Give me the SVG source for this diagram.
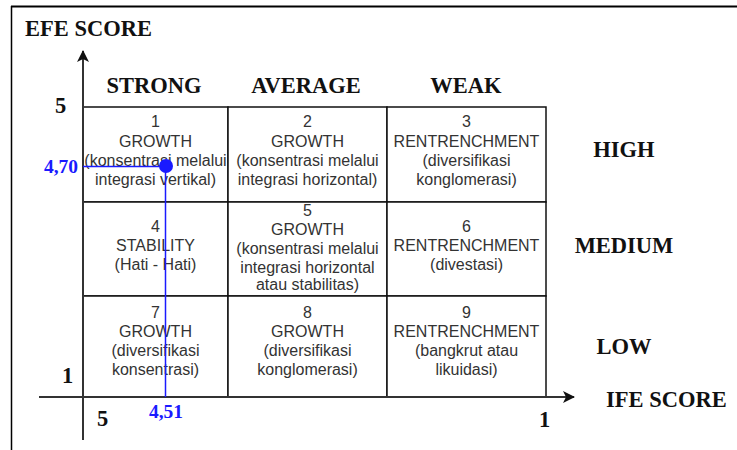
<svg xmlns="http://www.w3.org/2000/svg" width="737" height="450" viewBox="0 0 737 450">
  <defs>
    <marker id="arrow" viewBox="0 0 12 12" refX="11" refY="6" markerWidth="12" markerHeight="12" markerUnits="userSpaceOnUse" orient="auto">
      <path d="M0,0 L12,6 L0,12 L3,6 Z" fill="#111"/>
    </marker>
    <style>
      .frame { stroke: #000; fill: none; }
      .axis { stroke: #333; stroke-width: 2; fill: none; }
      .cell { fill: #fff; stroke: #111; stroke-width: 1.5; }
      .ct { font-family: "Liberation Sans", Arial, sans-serif; font-size: 16px; fill: #333; text-anchor: middle; }
      .hd { font-family: "Liberation Serif", "Times New Roman", serif; font-size: 22.5px; font-weight: bold; fill: #111; }
      .mid { text-anchor: middle; }
      .val { font-family: "Liberation Serif", "Times New Roman", serif; font-size: 19.5px; font-weight: bold; fill: #1a1aff; }
      .blue { stroke: #1a1aff; stroke-width: 1.5; fill: none; }
    </style>
  </defs>

  <rect width="737" height="450" fill="#fff"/>

  <!-- outer frame (top and left edges) -->
  <line class="frame" x1="11" y1="6.5" x2="737" y2="6.5" stroke-width="2"/>
  <line class="frame" x1="11.5" y1="6" x2="11.5" y2="450" stroke-width="1.5"/>

  <!-- axis titles and scale values -->
  <g id="labels">
    <text class="hd" x="25" y="36">EFE SCORE</text>
    <text class="hd" x="606" y="407">IFE SCORE</text>
    <text class="hd" x="55" y="113">5</text>
    <text class="hd" x="62" y="383">1</text>
    <text class="hd" x="97" y="426">5</text>
    <text class="hd" x="539" y="427">1</text>
    <text class="hd mid" x="154" y="93">STRONG</text>
    <text class="hd mid" x="306" y="93">AVERAGE</text>
    <text class="hd mid" x="466" y="93">WEAK</text>
    <text class="hd mid" x="624" y="157">HIGH</text>
    <text class="hd mid" x="624" y="253">MEDIUM</text>
    <text class="hd mid" x="624" y="354">LOW</text>
  </g>

  <!-- row 1 -->
  <g id="cell-1">
    <rect class="cell" x="83" y="107" width="145" height="95"/>
    <text class="ct" x="155.5" y="127">1</text>
    <text class="ct" x="155.5" y="146.5">GROWTH</text>
    <text class="ct" x="155.5" y="166">(konsentrasi melalui</text>
    <text class="ct" x="155.5" y="185">integrasi vertikal)</text>
  </g>
  <g id="cell-2">
    <rect class="cell" x="228" y="107" width="159" height="95"/>
    <text class="ct" x="307.5" y="127">2</text>
    <text class="ct" x="307.5" y="146.5">GROWTH</text>
    <text class="ct" x="307.5" y="166">(konsentrasi melalui</text>
    <text class="ct" x="307.5" y="185">integrasi horizontal)</text>
  </g>
  <g id="cell-3">
    <rect class="cell" x="387" y="107" width="159" height="95"/>
    <text class="ct" x="466.5" y="127">3</text>
    <text class="ct" x="466.5" y="146.5">RENTRENCHMENT</text>
    <text class="ct" x="466.5" y="166">(diversifikasi</text>
    <text class="ct" x="466.5" y="185">konglomerasi)</text>
  </g>

  <!-- row 2 -->
  <g id="cell-4">
    <rect class="cell" x="83" y="202" width="145" height="94"/>
    <text class="ct" x="155.5" y="232">4</text>
    <text class="ct" x="155.5" y="251">STABILITY</text>
    <text class="ct" x="155.5" y="270">(Hati - Hati)</text>
  </g>
  <g id="cell-5">
    <rect class="cell" x="228" y="202" width="159" height="94"/>
    <text class="ct" x="307.5" y="216">5</text>
    <text class="ct" x="307.5" y="235">GROWTH</text>
    <text class="ct" x="307.5" y="254">(konsentrasi melalui</text>
    <text class="ct" x="307.5" y="273">integrasi horizontal</text>
    <text class="ct" x="307.5" y="290">atau stabilitas)</text>
  </g>
  <g id="cell-6">
    <rect class="cell" x="387" y="202" width="159" height="94"/>
    <text class="ct" x="466.5" y="232">6</text>
    <text class="ct" x="466.5" y="251">RENTRENCHMENT</text>
    <text class="ct" x="466.5" y="270">(divestasi)</text>
  </g>

  <!-- row 3 -->
  <g id="cell-7">
    <rect class="cell" x="83" y="296" width="145" height="101"/>
    <text class="ct" x="155.5" y="318">7</text>
    <text class="ct" x="155.5" y="337">GROWTH</text>
    <text class="ct" x="155.5" y="356">(diversifikasi</text>
    <text class="ct" x="155.5" y="375">konsentrasi)</text>
  </g>
  <g id="cell-8">
    <rect class="cell" x="228" y="296" width="159" height="101"/>
    <text class="ct" x="307.5" y="318">8</text>
    <text class="ct" x="307.5" y="337">GROWTH</text>
    <text class="ct" x="307.5" y="356">(diversifikasi</text>
    <text class="ct" x="307.5" y="375">konglomerasi)</text>
  </g>
  <g id="cell-9">
    <rect class="cell" x="387" y="296" width="159" height="101"/>
    <text class="ct" x="466.5" y="318">9</text>
    <text class="ct" x="466.5" y="337">RENTRENCHMENT</text>
    <text class="ct" x="466.5" y="356">(bangkrut atau</text>
    <text class="ct" x="466.5" y="375">likuidasi)</text>
  </g>

  <!-- axes and position marker -->
  <g id="connectors">
    <line class="axis" x1="83" y1="440" x2="83" y2="51" marker-end="url(#arrow)"/>
    <line class="axis" x1="39" y1="397" x2="574" y2="397" marker-end="url(#arrow)"/>
    <line class="blue" x1="83" y1="166.5" x2="166" y2="166.5"/>
    <line class="blue" x1="165.5" y1="166" x2="165.5" y2="397"/>
  </g>

  <g id="position-point">
    <circle cx="166" cy="166" r="7" fill="#1a1aff"/>
    <text class="val" x="78" y="173" text-anchor="end">4,70</text>
    <text class="val" x="166" y="418" text-anchor="middle">4,51</text>
  </g>
</svg>
